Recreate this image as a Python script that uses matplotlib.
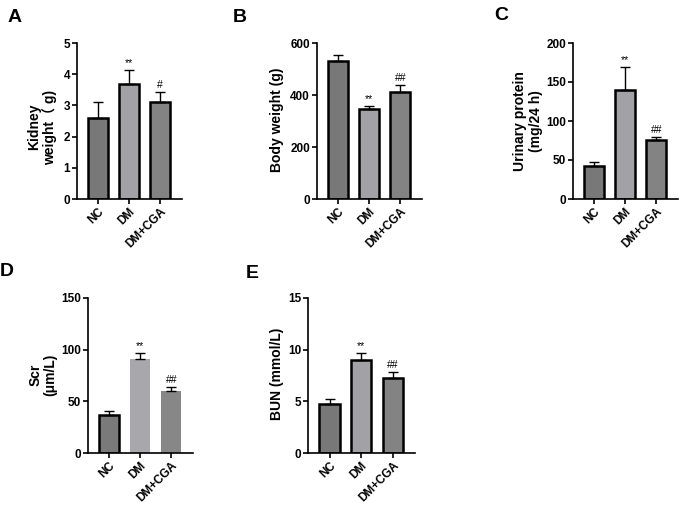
import matplotlib
matplotlib.use("Agg")
import matplotlib.pyplot as plt

plt.rcParams['font.family'] = ['Liberation Sans', 'Noto Sans CJK SC', 'DejaVu Sans']

groups = ["NC", "DM", "DM+CGA"]

kidney_mean = [2.6, 3.67, 3.12]
kidney_err = [0.5, 0.45, 0.31]
kidney_sig = ["", "**", "#"]

body_mean = [530, 348, 413]
body_err = [22, 8, 25]
body_sig = ["", "**", "##"]

urine_mean = [42, 140, 76]
urine_err = [6, 29, 4]
urine_sig = ["", "**", "##"]

scr_mean = [37, 91, 60]
scr_err = [3.5, 6, 3.5]
scr_sig = ["", "**", "##"]

bun_mean = [4.7, 9.0, 7.3]
bun_err = [0.5, 0.7, 0.55]
bun_sig = ["", "**", "##"]

W, H = 680, 507
fig = plt.figure(figsize=(W / 100, H / 100), dpi=100)

def px_axes(l, t, r, b):
    return fig.add_axes([l / W, 1 - b / H, (r - l) / W, (b - t) / H])

colors_top = ["#787878", "#a2a2a6", "#838383"]
colors_d = ["#7a7a7a", "#a8a8ac", "#878787"]

def panel(rect, means, errs, sigs, ymax, yticks, ylabel, lab_xy, letter, letter_xy,
          colors=colors_top, edges=(True, True, True)):
    ax = px_axes(*rect)
    x = list(range(len(groups)))
    for i in x:
        ax.bar(i, means[i], width=0.64, color=colors[i],
               edgecolor="black" if edges[i] else "none",
               linewidth=1.8 if edges[i] else 0, zorder=2)
    ax.errorbar(x, means, yerr=[[0] * len(x), errs], fmt="none", ecolor="black",
                elinewidth=1.0, capsize=3.6, capthick=1.0, zorder=3)
    for i in x:
        if sigs[i]:
            ax.annotate(sigs[i], (i, means[i] + errs[i]), xytext=(0, 1.5),
                        textcoords="offset points", ha="center", va="bottom",
                        fontsize=7.5)
    ax.set_xlim(-0.68, 2.7)
    ax.set_ylim(0, ymax)
    ax.set_yticks(yticks)
    ax.set_xticks(x)
    ax.set_xticklabels(groups, rotation=45, ha="right", rotation_mode="anchor",
                       fontsize=8.5, fontweight="bold")
    for t in ax.get_yticklabels():
        t.set_fontsize(8.5)
        t.set_fontweight("bold")
    for s in ["top", "right"]:
        ax.spines[s].set_visible(False)
    for s in ["left", "bottom"]:
        ax.spines[s].set_linewidth(1.2)
    ax.tick_params(axis="both", width=1.2, length=3.5, pad=1.5)
    fig.text(lab_xy[0] / W, 1 - lab_xy[1] / H, ylabel, rotation=90, ha="center",
             va="center", fontsize=10, fontweight="bold", linespacing=1.1)
    fig.text(letter_xy[0] / W, 1 - letter_xy[1] / H, letter, ha="center", va="center",
             fontsize=14, fontweight="bold")
    return ax

panel((77, 43, 182, 199), kidney_mean, kidney_err, kidney_sig, 5, [0, 1, 2, 3, 4, 5],
      "Kidney\nweight\uff08 g)", (42, 127), "A", (15, 18))
panel((317, 43, 422, 199), body_mean, body_err, body_sig, 600, [0, 200, 400, 600],
      "Body weight (g)", (277, 120), "B", (240, 18))
panel((573, 43, 678, 199), urine_mean, urine_err, urine_sig, 200, [0, 50, 100, 150, 200],
      "Urinary protein\n(mg/24 h)", (528, 121), "C", (501, 16))
panel((88, 298, 193, 453), scr_mean, scr_err, scr_sig, 150, [0, 50, 100, 150],
      "Scr\n(\u03bcm/L)", (43, 375), "D", (7, 272), colors=colors_d,
      edges=(True, False, False))
panel((308, 298, 415, 453), bun_mean, bun_err, bun_sig, 15, [0, 5, 10, 15],
      "BUN (mmol/L)", (277, 374), "E", (252, 274))

fig.savefig("out.png", dpi=100)
